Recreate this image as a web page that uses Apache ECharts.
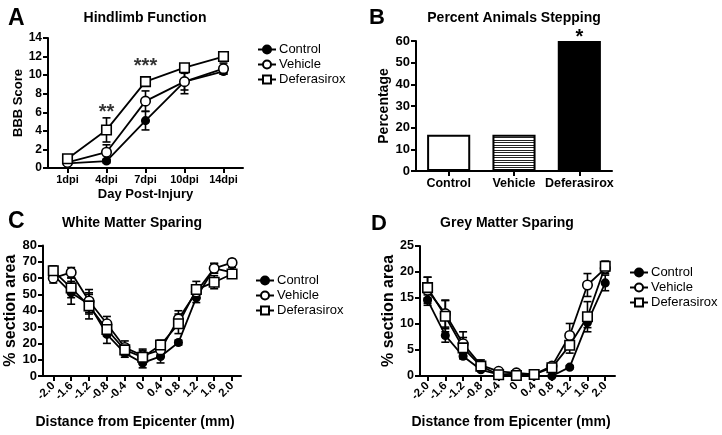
<!DOCTYPE html>
<html><head><meta charset="utf-8">
<script src="https://cdn.jsdelivr.net/npm/echarts@6/dist/echarts.min.js"></script>
<style>html,body{margin:0;padding:0;background:#fff}#c{width:722px;height:435px}</style>
</head><body><div id="c"></div>
<script>
// ---------- data ----------
const groupNames = ['Control', 'Vehicle', 'Deferasirox'];

// Panel A: Hindlimb Function (BBB score)
const aDays = ['1dpi', '4dpi', '7dpi', '10dpi', '14dpi'];
const aControl = [0.5, 0.75, 5.1, 9.3, 10.4];
const aVehicle = [0.6, 1.7, 7.2, 9.3, 10.7];
const aDeferasirox = [1.0, 4.1, 9.3, 10.8, 12.0];
const aControlErr = [0.2, 0.2, 1.0, 0.9, 0.3];
const aVehicleErr = [0.3, 0.8, 1.1, 1.3, 0.6];
const aDeferasiroxErr = [0.4, 1.3, 0.3, 0.3, 0.3];
const aStarDays = [1, 2];
const aStarHeights = [6.0, 10.9];
const aStars = ['**', '***'];
const aYTicks = [0, 14, 2];

// Panel B: Percent Animals Stepping
const bGroups = ['Control', 'Vehicle', 'Deferasirox'];
const bValues = [16.7, 16.7, 60];
const bStars = ['', '', '*'];
const bYTicks = [0, 60, 10];

// Panels C & D: distance from epicenter (mm)
const distances = [-2.0, -1.6, -1.2, -0.8, -0.4, 0, 0.4, 0.8, 1.2, 1.6, 2.0];

// Panel C: White Matter Sparing (% section area)
const cControl = [62, 51, 44, 25.5, 14, 8, 12, 20.5, 48, 66, 63.5];
const cVehicle = [60, 63.5, 46, 32, 17.5, 12.5, 16, 35, 51.5, 66, 69.5];
const cDeferasirox = [64.5, 54, 43, 28.5, 16, 11.5, 19, 32, 53, 57.5, 62.5];
const cControlErr = [3, 7, 6, 5.5, 2.5, 3, 4, 1.5, 3, 3, 3];
const cVehicleErr = [3, 3, 7, 4.5, 4, 4, 3, 5, 4, 3, 2];
const cDeferasiroxErr = [3, 6, 8, 4, 3, 4, 3, 6, 5, 4, 2];
const cYTicks = [0, 80, 10];

// Panel D: Grey Matter Sparing (% section area)
const dControl = [14.6, 7.8, 3.8, 1.2, 0.3, 0.45, 0, 0, 1.7, 10.3, 17.9];
const dVehicle = [16.5, 12.0, 6.2, 2.1, 0.9, 0.6, 0.3, 1.9, 7.8, 17.5, 20.7];
const dDeferasirox = [17.0, 11.5, 5.4, 1.9, 0.25, 0.1, 0.3, 1.6, 5.9, 11.4, 21.1];
const dControlErr = [1.0, 1.3, 0.5, 0.3, 0.2, 0.2, 0.1, 0.1, 0.3, 1.0, 1.5];
const dVehicleErr = [2.5, 2.6, 2.3, 1.0, 0.3, 0.3, 0.2, 0.5, 2.3, 2.2, 1.0];
const dDeferasiroxErr = [2.0, 3.0, 2.0, 0.8, 0.3, 0.3, 0.2, 0.5, 1.5, 2.9, 1.0];
const dYTicks = [0, 25, 5];

// ---------- styles ----------
const FONT = '"Liberation Sans", Arial, Helvetica, sans-serif';
const BLACK = '#000';
const symbolStyle = {
  Control: { symbol: 'circle', size: 7.5, fill: '#000' },
  Vehicle: { symbol: 'circle', size: 9.5, fill: '#fff' },
  Deferasirox: { symbol: 'rect', size: 9.5, fill: '#fff' }
};

// striped pattern for the Vehicle bar
function stripePattern() {
  const cv = document.createElement('canvas');
  cv.width = 4; cv.height = 5;
  const ctx = cv.getContext('2d');
  ctx.fillStyle = '#fff'; ctx.fillRect(0, 0, 4, 5);
  ctx.fillStyle = '#222';
  ctx.fillRect(0, 0, 4, 1);
  ctx.fillRect(0, 2, 4, 1);
  return { image: cv, repeat: 'repeat' };
}
const bFills = ['#fff', stripePattern(), '#000'];

function axisCommon(extra) {
  return Object.assign({
    axisLine: { show: true, onZero: false, lineStyle: { color: BLACK, width: 2 } },
    axisTick: { show: true, length: 5, lineStyle: { color: BLACK, width: 2 } },
    splitLine: { show: false },
    nameLocation: 'middle',
    nameTextStyle: { color: BLACK, fontWeight: 'bold', fontFamily: FONT, fontSize: 14 }
  }, extra);
}

function errRender(params, api) {
  const x = api.value(0), lo = api.value(1), hi = api.value(2);
  const p1 = api.coord([x, hi]);
  const p2 = api.coord([x, lo]);
  const hw = 4;
  const st = { stroke: BLACK, lineWidth: 1.6 };
  return {
    type: 'group',
    children: [
      { type: 'line', shape: { x1: p1[0], y1: p1[1], x2: p2[0], y2: p2[1] }, style: st },
      { type: 'line', shape: { x1: p1[0] - hw, y1: p1[1], x2: p1[0] + hw, y2: p1[1] }, style: st },
      { type: 'line', shape: { x1: p2[0] - hw, y1: p2[1], x2: p2[0] + hw, y2: p2[1] }, style: st }
    ]
  };
}

function lineSeries(name, idx, xs, ys) {
  const s = symbolStyle[name];
  return {
    type: 'line', name: name, xAxisIndex: idx, yAxisIndex: idx,
    data: ys.map((v, i) => [xs[i], v]),
    symbol: s.symbol, symbolSize: s.size, showSymbol: true,
    lineStyle: { color: BLACK, width: 1.8 },
    itemStyle: { color: s.fill, borderColor: BLACK, borderWidth: 1.6 },
    z: 3, animation: false
  };
}
function errSeries(name, idx, xs, ys, es) {
  return {
    type: 'custom', name: name + ' err', xAxisIndex: idx, yAxisIndex: idx,
    data: ys.map((v, i) => [xs[i], v - es[i], v + es[i]]),
    encode: { x: 0, y: [1, 2] },
    renderItem: errRender, z: 2, silent: true, animation: false
  };
}

const aIdx = aDays.map((d, i) => i);

const series = [];
// A
[[aControl, aControlErr], [aVehicle, aVehicleErr], [aDeferasirox, aDeferasiroxErr]].forEach((p, k) => {
  series.push(errSeries(groupNames[k], 0, aIdx, p[0], p[1]));
  series.push(lineSeries(groupNames[k], 0, aIdx, p[0]));
});
series.push({
  type: 'scatter', xAxisIndex: 0, yAxisIndex: 0, clip: false,
  data: aStarDays.map((d, i) => [d, aStarHeights[i]]),
  symbolSize: 1, itemStyle: { color: 'rgba(0,0,0,0)' }, silent: true,
  label: { show: true, position: 'inside', formatter: p => aStars[p.dataIndex],
    color: BLACK, fontSize: 20, fontWeight: 'bold', fontFamily: FONT },
  z: 5, animation: false
});
// B
series.push({
  type: 'bar', name: 'Percentage', xAxisIndex: 1, yAxisIndex: 1,
  data: bValues.map((v, i) => ({ value: v, itemStyle: { color: bFills[i] } })),
  barWidth: '66%',
  itemStyle: { borderColor: BLACK, borderWidth: 2 },
  label: { show: true, position: 'top', distance: -6, formatter: p => bStars[p.dataIndex],
    color: BLACK, fontSize: 20, fontWeight: 'bold', fontFamily: FONT },
  animation: false
});
// C
[[cControl, cControlErr], [cVehicle, cVehicleErr], [cDeferasirox, cDeferasiroxErr]].forEach((p, k) => {
  series.push(errSeries(groupNames[k], 2, distances, p[0], p[1]));
  series.push(lineSeries(groupNames[k], 2, distances, p[0]));
});
// D
[[dControl, dControlErr], [dVehicle, dVehicleErr], [dDeferasirox, dDeferasiroxErr]].forEach((p, k) => {
  series.push(errSeries(groupNames[k], 3, distances, p[0], p[1]));
  series.push(lineSeries(groupNames[k], 3, distances, p[0]));
});

const titleBold = (text, left, top, size, align) => ({
  text: text, left: left, top: top, padding: 0, textAlign: align || 'left',
  textStyle: { color: BLACK, fontWeight: 'bold', fontFamily: FONT, fontSize: size }
});

const legendCommon = (left, top) => ({
  left: left, top: top, orient: 'vertical', padding: 0,
  itemWidth: 18, itemHeight: 10, itemGap: 2,
  data: groupNames,
  selectedMode: false,
  textStyle: { color: BLACK, fontFamily: FONT, fontSize: 13, padding: [0, 0, 0, -2] }
});

const distLabel = v => (v === 0 ? '0' : v.toFixed(1));

const option = {
  backgroundColor: '#fff',
  animation: false,
  title: [
    titleBold('A', 8, 7, 23),
    titleBold('Hindlimb Function', 145, 11, 14, 'center'),
    titleBold('B', 369, 7, 22),
    titleBold('Percent Animals Stepping', 514, 11, 14, 'center'),
    titleBold('C', 8, 210, 23),
    titleBold('White Matter Sparing', 132, 216, 14, 'center'),
    titleBold('D', 371, 213, 22),
    titleBold('Grey Matter Sparing', 507, 216, 14, 'center')
  ],
  legend: [legendCommon(257, 43), legendCommon(255, 274), legendCommon(629, 266)],
  grid: [
    { left: 48, top: 38, width: 195, height: 130 },
    { left: 416, top: 41, width: 196, height: 130 },
    { left: 43, top: 245.5, width: 198, height: 130.5 },
    { left: 420, top: 246, width: 195, height: 130 }
  ],
  xAxis: [
    axisCommon({ type: 'category', gridIndex: 0, data: aDays, boundaryGap: true,
      axisTick: { show: true, alignWithLabel: true, length: 5, lineStyle: { color: BLACK, width: 2 } },
      axisLabel: { interval: 0, color: BLACK, fontWeight: 'bold', fontFamily: FONT, fontSize: 11, margin: 6 },
      name: 'Day Post-Injury', nameGap: 20,
      nameTextStyle: { color: BLACK, fontWeight: 'bold', fontFamily: FONT, fontSize: 13 } }),
    axisCommon({ type: 'category', gridIndex: 1, data: bGroups, boundaryGap: true,
      axisTick: { show: true, alignWithLabel: true, length: 5, lineStyle: { color: BLACK, width: 2 } },
      axisLabel: { interval: 0, color: BLACK, fontWeight: 'bold', fontFamily: FONT, fontSize: 12.5, margin: 6 } }),
    axisCommon({ type: 'value', gridIndex: 2, min: -2.23, max: 2.2,
      axisTick: { show: true, customValues: distances, length: 5, lineStyle: { color: BLACK, width: 2 } },
      axisLabel: { customValues: distances, formatter: distLabel, rotate: 45, color: BLACK,
        fontWeight: 'bold', fontFamily: FONT, fontSize: 11.5, margin: 8 },
      name: 'Distance from Epicenter (mm)', nameGap: 39,
      nameTextStyle: { color: BLACK, fontWeight: 'bold', fontFamily: FONT, fontSize: 14, padding: [0, 14, 0, 0] } }),
    axisCommon({ type: 'value', gridIndex: 3, min: -2.17, max: 2.22,
      axisTick: { show: true, customValues: distances, length: 5, lineStyle: { color: BLACK, width: 2 } },
      axisLabel: { customValues: distances, formatter: distLabel, rotate: 45, color: BLACK,
        fontWeight: 'bold', fontFamily: FONT, fontSize: 11.5, margin: 8 },
      name: 'Distance from Epicenter (mm)', nameGap: 39,
      nameTextStyle: { color: BLACK, fontWeight: 'bold', fontFamily: FONT, fontSize: 14, padding: [0, 13, 0, 0] } })
  ],
  yAxis: [
    axisCommon({ type: 'value', gridIndex: 0, min: aYTicks[0], max: aYTicks[1], interval: aYTicks[2],
      axisLabel: { color: BLACK, fontWeight: 'bold', fontFamily: FONT, fontSize: 12, margin: 6 },
      name: 'BBB Score', nameGap: 19,
      nameTextStyle: { color: BLACK, fontWeight: 'bold', fontFamily: FONT, fontSize: 13 } }),
    axisCommon({ type: 'value', gridIndex: 1, min: bYTicks[0], max: bYTicks[1], interval: bYTicks[2],
      axisLabel: { color: BLACK, fontWeight: 'bold', fontFamily: FONT, fontSize: 13, margin: 6 },
      name: 'Percentage', nameGap: 22,
      nameTextStyle: { color: BLACK, fontWeight: 'bold', fontFamily: FONT, fontSize: 14 } }),
    axisCommon({ type: 'value', gridIndex: 2, min: cYTicks[0], max: cYTicks[1], interval: cYTicks[2],
      axisLabel: { color: BLACK, fontWeight: 'bold', fontFamily: FONT, fontSize: 13, margin: 6 },
      name: '% section area', nameGap: 20,
      nameTextStyle: { color: BLACK, fontWeight: 'bold', fontFamily: FONT, fontSize: 16 } }),
    axisCommon({ type: 'value', gridIndex: 3, min: dYTicks[0], max: dYTicks[1], interval: dYTicks[2],
      axisLabel: { color: BLACK, fontWeight: 'bold', fontFamily: FONT, fontSize: 12.5, margin: 6 },
      name: '% section area', nameGap: 21,
      nameTextStyle: { color: BLACK, fontWeight: 'bold', fontFamily: FONT, fontSize: 16 } })
  ],
  series: series
};

const chart = echarts.init(document.getElementById('c'), null, { renderer: 'canvas' });
chart.setOption(option);
</script>
</body></html>
